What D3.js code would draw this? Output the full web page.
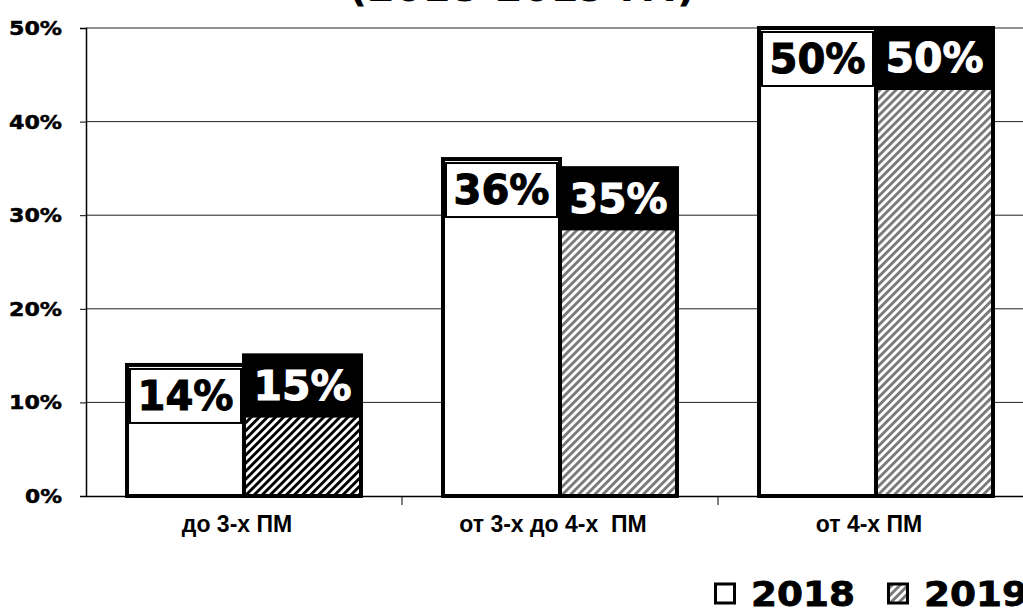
<!DOCTYPE html>
<html><head><meta charset="utf-8">
<script src="https://cdn.jsdelivr.net/npm/d3@7"></script>
<style>
html,body{margin:0;padding:0;background:#fff;overflow:hidden;}
svg{display:block;}
</style></head>
<body>
<svg id="chart" width="1023" height="613"></svg>
<script>
const title = "(2018-2019 гг.)";
const categories = ["до 3-х ПМ", "от 3-х до 4-х  ПМ", "от 4-х ПМ"];
const years = ["2018", "2019"];
const values2018 = [14, 36, 50];
const values2019 = [15, 35, 50];
const yTicks = [0, 10, 20, 30, 40, 50];

const svg = d3.select("#chart");
const W = 1023, H = 613;
const mLeft = 86, mTop = 28, mBottom = 496, mRight = 1034;

const defs = svg.append("defs");
function hatch(id, color) {
  const p = defs.append("pattern").attr("id", id).attr("patternUnits", "userSpaceOnUse")
    .attr("width", 5.7).attr("height", 5.7).attr("patternTransform", "rotate(45)");
  p.append("rect").attr("width", 5.7).attr("height", 5.7).attr("fill", "#fff");
  p.append("rect").attr("width", 2.9).attr("height", 5.7).attr("fill", color);
}
hatch("hatchBlack", "#000");
hatch("hatchGray", "#7a7a7a");

const x0 = d3.scaleBand().domain(categories).range([mLeft, mRight]);
const x1 = d3.scaleBand().domain(years).range([41, x0.bandwidth() - 41]);
const y = d3.scaleLinear().domain([0, 50]).range([mBottom, mTop]);

// title (mostly cut off at the top)
svg.append("text").attr("x", 522).attr("y", 1).attr("text-anchor", "middle")
  .attr("font-family", "DejaVu Sans").attr("font-weight", "bold").attr("font-size", 40)
  .text(title);

// gridlines
svg.append("g").selectAll("line").data(yTicks.filter(d => d > 0)).join("line")
  .attr("x1", mLeft).attr("x2", W).attr("y1", d => y(d)).attr("y2", d => y(d))
  .attr("stroke", "#222").attr("stroke-width", 1);

// y axis
const yAxis = svg.append("g").attr("transform", `translate(${mLeft},0)`)
  .call(d3.axisLeft(y).tickValues(yTicks).tickSize(6).tickPadding(18).tickFormat(d => d + "%"));
yAxis.select(".domain").attr("stroke", "#000").attr("stroke-width", 1.5);
yAxis.selectAll(".tick line").attr("stroke", "#000").attr("stroke-width", 1);
yAxis.selectAll("text").attr("font-family", "DejaVu Sans").attr("font-weight", "bold")
  .attr("font-size", 20).attr("fill", "#000").attr("stroke", "#000").attr("stroke-width", 0.5)
  .attr("textLength", d => d === 0 ? 37 : 53).attr("lengthAdjust", "spacingAndGlyphs");

// x axis
const xAxis = svg.append("g").attr("transform", `translate(0,${mBottom})`)
  .call(d3.axisBottom(x0).tickSize(0).tickPadding(20));
xAxis.select(".domain").attr("stroke", "#000").attr("stroke-width", 1.5);
xAxis.selectAll("text").attr("font-family", "Liberation Sans, Arial").attr("font-weight", "bold")
  .attr("font-size", 23).attr("fill", "#000").attr("dx", -7).style("white-space", "pre");
// category separators
svg.append("g").selectAll("line").data(categories.slice(1)).join("line")
  .attr("x1", d => x0(d)).attr("x2", d => x0(d)).attr("y1", mBottom).attr("y2", mBottom + 9)
  .attr("stroke", "#000").attr("stroke-width", 1);

const rows = categories.map((c, i) => ({cat: c, i, vals: [values2018[i], values2019[i]]}));

const groups = svg.append("g").selectAll("g").data(rows).join("g")
  .attr("transform", d => `translate(${x0(d.cat)},0)`);

groups.each(function(d) {
  const g = d3.select(this);
  years.forEach((yr, j) => {
    const v = d.vals[j];
    const bx = x1(yr), bw = x1.bandwidth();
    const by = y(v), bh = y(0) - y(v);
    g.append("rect").attr("x", bx).attr("y", by).attr("width", bw).attr("height", bh)
      .attr("fill", j === 0 ? "#fff" : (d.i === 0 ? "url(#hatchBlack)" : "url(#hatchGray)"))
      .attr("stroke", "#000").attr("stroke-width", 4);
    if (j === 0) {
      g.append("rect").attr("x", bx + 3).attr("y", by + 4).attr("width", bw - 6).attr("height", 54)
        .attr("fill", "#fff").attr("stroke", "#000").attr("stroke-width", 2);
      g.append("text").attr("x", bx + bw / 2).attr("y", by + 4 + 27).attr("dy", "0.36em")
        .attr("text-anchor", "middle").attr("font-family", "DejaVu Sans").attr("font-weight", "bold")
        .attr("font-size", 40).attr("fill", "#000").attr("stroke", "#000").attr("stroke-width", 1)
        .attr("textLength", 96).attr("lengthAdjust", "spacingAndGlyphs").text(v + "%");
    } else {
      g.append("rect").attr("x", bx).attr("y", by).attr("width", bw).attr("height", 60)
        .attr("fill", "#000").attr("stroke", "#000").attr("stroke-width", 4);
      g.append("text").attr("x", bx + bw / 2).attr("y", by + 30).attr("dy", "0.36em")
        .attr("text-anchor", "middle").attr("font-family", "DejaVu Sans").attr("font-weight", "bold")
        .attr("font-size", 40).attr("fill", "#fff").attr("stroke", "#fff").attr("stroke-width", 1)
        .attr("textLength", 98).attr("lengthAdjust", "spacingAndGlyphs").text(v + "%");
    }
  });
});

// legend
const legend = svg.append("g");
const legX = [714, 887];
years.forEach((yr, j) => {
  legend.append("rect").attr("x", legX[j] + 1.5).attr("y", 584).attr("width", 19).attr("height", 19)
    .attr("fill", j === 0 ? "#fff" : "url(#hatchGray)").attr("stroke", "#000").attr("stroke-width", 3);
  legend.append("text").attr("x", legX[j] + 37).attr("y", 606)
    .attr("font-family", "DejaVu Sans").attr("font-weight", "bold").attr("font-size", 34)
    .attr("fill", "#000").attr("stroke", "#000").attr("stroke-width", 0.8)
    .attr("textLength", 104).attr("lengthAdjust", "spacingAndGlyphs").text(yr);
});
</script>
</body></html>
